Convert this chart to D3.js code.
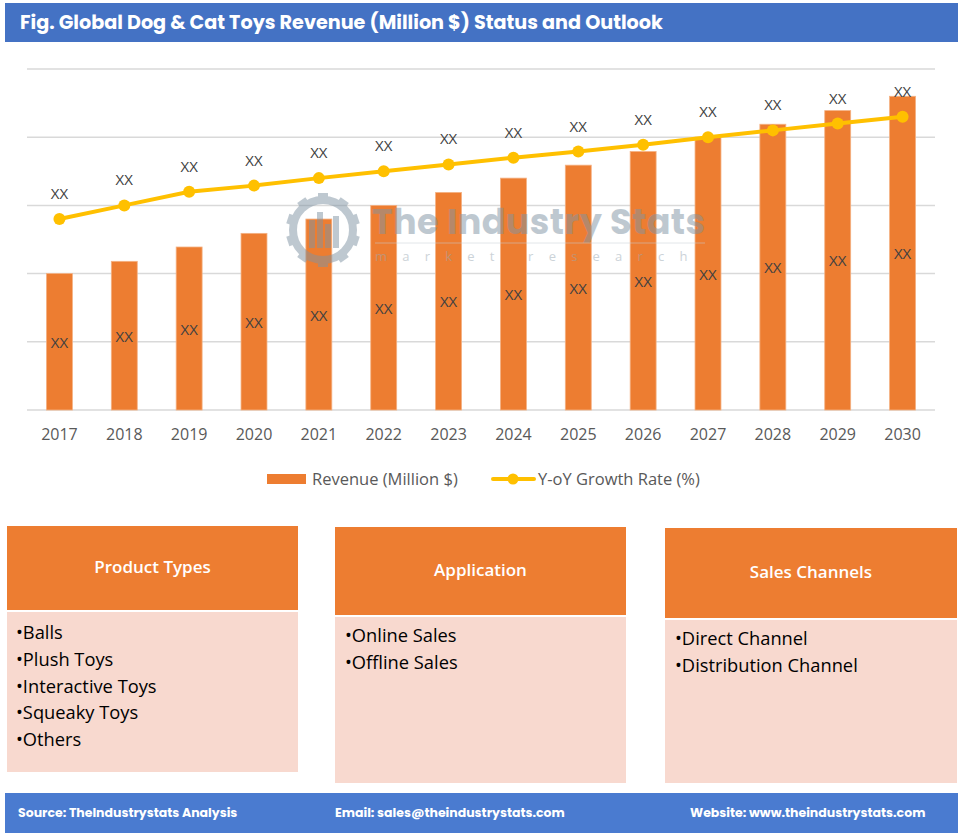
<!DOCTYPE html>
<html><head><meta charset="utf-8">
<script src="https://cdn.jsdelivr.net/npm/d3@7"></script>
<style>body{margin:0;background:#fff}svg{display:block}</style>
</head><body>
<script>
const years = ["2017","2018","2019","2020","2021","2022","2023","2024","2025","2026","2027","2028","2029","2030"];
const revenue = [2.0,2.18,2.39,2.59,2.8,3.0,3.19,3.4,3.59,3.79,4.0,4.19,4.39,4.6];
const growth = [2.8,3.0,3.2,3.29,3.4,3.5,3.6,3.7,3.79,3.89,4.0,4.1,4.2,4.3];
const barLabels = years.map(()=> "XX");
const lineLabels = years.map(()=> "XX");
const yTicks = [0,1,2,3,4,5];
const title = "Fig. Global Dog & Cat Toys Revenue (Million $) Status and Outlook";
const legendItems = ["Revenue (Million $)", "Y-oY Growth Rate (%)"];
const boxTitles = ["Product Types","Application","Sales Channels"];
const productTypes = ["Balls","Plush Toys","Interactive Toys","Squeaky Toys","Others"];
const applications = ["Online Sales","Offline Sales"];
const salesChannels = ["Direct Channel","Distribution Channel"];
const footerTexts = ["Source: TheIndustrystats Analysis","Email: sales@theindustrystats.com","Website: www.theindustrystats.com"];

const W=960,H=835;
const svg=d3.select("body").append("svg").attr("width",W).attr("height",H);
const bodyFont="'Open Sans', 'Noto Sans', sans-serif";

// Title bar
svg.append("rect").attr("x",5).attr("y",3).attr("width",953).attr("height",39).attr("fill","#4472C4");
svg.append("text").attr("x",20).attr("y",29).attr("fill","#fff").attr("font-family","Poppins, 'Open Sans', sans-serif")
  .attr("font-weight",700).attr("font-size",19.2).text(title);

// Chart
const x=d3.scaleBand().domain(years).range([27,935]).paddingInner(0.6).paddingOuter(0.3);
const y=d3.scaleLinear().domain([0,5]).range([410,69]);
const xc=d=>x(d)+x.bandwidth()/2;

svg.append("g").selectAll("line").data(yTicks).join("line")
  .attr("x1",27).attr("x2",935).attr("y1",d=>y(d)).attr("y2",d=>y(d))
  .attr("stroke","#d9d9d9").attr("stroke-width",1.5);

// Bars
svg.append("g").selectAll("rect").data(years).join("rect")
  .attr("x",d=>x(d)).attr("width",x.bandwidth())
  .attr("y",(d,i)=>y(revenue[i])).attr("height",(d,i)=>y(0)-y(revenue[i]))
  .attr("fill","#ED7D31").attr("stroke","#F4B183").attr("stroke-width",0.8);

// Watermark (on top, semi-transparent)
const wm=svg.append("g").attr("opacity",0.5);
const gear=wm.append("g").attr("transform","translate(323,230)");
const teeth=d3.range(10).map(i=>i*36);
gear.selectAll("rect").data(teeth).join("rect").attr("x",-5).attr("y",-37).attr("width",10).attr("height",10)
  .attr("fill","#7f93a3").attr("transform",d=>`rotate(${d})`);
gear.append("circle").attr("r",30).attr("fill","none").attr("stroke","#7f93a3").attr("stroke-width",8);
gear.selectAll(".b").data([[-14,-10,28],[-6,-18,36],[2,-6,24],[10,-14,32]]).join("rect")
  .attr("x",d=>d[0]).attr("y",d=>d[1]).attr("width",6).attr("height",d=>d[2]).attr("fill","#7f93a3");
wm.append("text").attr("x",372).attr("y",234).attr("font-family","Poppins, 'Open Sans', sans-serif").attr("font-weight",700)
  .attr("font-size",35).attr("fill","#7f93a3").attr("textLength",333).attr("lengthAdjust","spacing").text("The Industry Stats");
wm.append("line").attr("x1",375).attr("x2",705).attr("y1",243).attr("y2",243).attr("stroke","#c8d0d6").attr("stroke-width",1);
wm.append("text").attr("x",375).attr("y",261).attr("font-family",bodyFont).attr("font-size",13)
  .attr("fill","#9aa8b3").attr("letter-spacing",15.2).text("market research");

// Bar labels
svg.append("g").selectAll("text").data(years).join("text")
  .attr("x",d=>xc(d)).attr("y",(d,i)=>(y(revenue[i])+y(0))/2+6)
  .attr("text-anchor","middle").attr("font-family",bodyFont).attr("font-size",15).attr("fill","#404040")
  .text((d,i)=>barLabels[i]);

// Line
const line=d3.line().x(d=>xc(d[0])).y(d=>y(d[1]));
const pts=years.map((d,i)=>[d,growth[i]]);
svg.append("path").datum(pts).attr("d",line).attr("fill","none").attr("stroke","#FFC000").attr("stroke-width",4).attr("stroke-linecap","round");
svg.append("g").selectAll("circle").data(pts).join("circle")
  .attr("cx",d=>xc(d[0])).attr("cy",d=>y(d[1])).attr("r",6).attr("fill","#FFC000");
svg.append("g").selectAll("text").data(pts).join("text")
  .attr("x",d=>xc(d[0])).attr("y",d=>y(d[1])-20)
  .attr("text-anchor","middle").attr("font-family",bodyFont).attr("font-size",15).attr("fill","#404040")
  .text((d,i)=>lineLabels[i]);

// X axis
const xAxis=svg.append("g").attr("transform","translate(0,410)").call(d3.axisBottom(x).tickSize(0).tickPadding(19));
xAxis.select(".domain").remove();
xAxis.selectAll("text").attr("font-family",bodyFont).attr("font-size",16).attr("fill","#595959");

// Legend
const lg=svg.append("g");
lg.append("rect").attr("x",267).attr("y",474).attr("width",39).attr("height",10).attr("fill","#ED7D31");
lg.append("text").attr("x",312).attr("y",485).attr("font-family",bodyFont).attr("font-size",16.5).attr("fill","#595959").text(legendItems[0]);
lg.append("line").attr("x1",493).attr("x2",534).attr("y1",479).attr("y2",479).attr("stroke","#FFC000").attr("stroke-width",4).attr("stroke-linecap","round");
lg.append("circle").attr("cx",513).attr("cy",479).attr("r",5.5).attr("fill","#FFC000");
lg.append("text").attr("x",538).attr("y",485).attr("font-family",bodyFont).attr("font-size",16.5).attr("fill","#595959").text(legendItems[1]);

// Boxes
const boxes=[
  {x:7,w:291,hy:526,hh:84,by:612,bh:160,items:productTypes,tx:16,iy:638},
  {x:335,w:291,hy:527,hh:88,by:617,bh:166,items:applications,tx:345,iy:641},
  {x:665,w:292,hy:528,hh:90,by:620,bh:163,items:salesChannels,tx:675,iy:644}
];
boxes.forEach((b,bi)=>{
  const g=svg.append("g");
  g.append("rect").attr("x",b.x).attr("y",b.hy).attr("width",b.w).attr("height",b.hh).attr("fill","#ED7D31");
  g.append("rect").attr("x",b.x).attr("y",b.by).attr("width",b.w).attr("height",b.bh).attr("fill","#F8D9CF");
  g.append("text").attr("x",b.x+b.w/2).attr("y",b.hy+b.hh/2+5).attr("text-anchor","middle")
    .attr("font-family",bodyFont).attr("font-weight",600).attr("font-size",17).attr("fill","#fff").text(boxTitles[bi]);
  g.selectAll(".it").data(b.items).join("text").attr("x",b.tx).attr("y",(d,i)=>b.iy+1+i*26.8)
    .attr("font-family",bodyFont).attr("font-size",18.3).attr("fill","#000").text(d=>"•"+d);
});

// Footer
svg.append("rect").attr("x",5).attr("y",793).attr("width",953).attr("height",40).attr("fill","#4A7BD0");
const fx=[18,335,690];
svg.append("g").selectAll("text").data(footerTexts).join("text")
  .attr("x",(d,i)=>fx[i]).attr("y",817).attr("font-family","Poppins, 'Open Sans', sans-serif").attr("font-weight",700)
  .attr("font-size",12.5).attr("fill","#fff").text(d=>d);
</script>
</body></html>
